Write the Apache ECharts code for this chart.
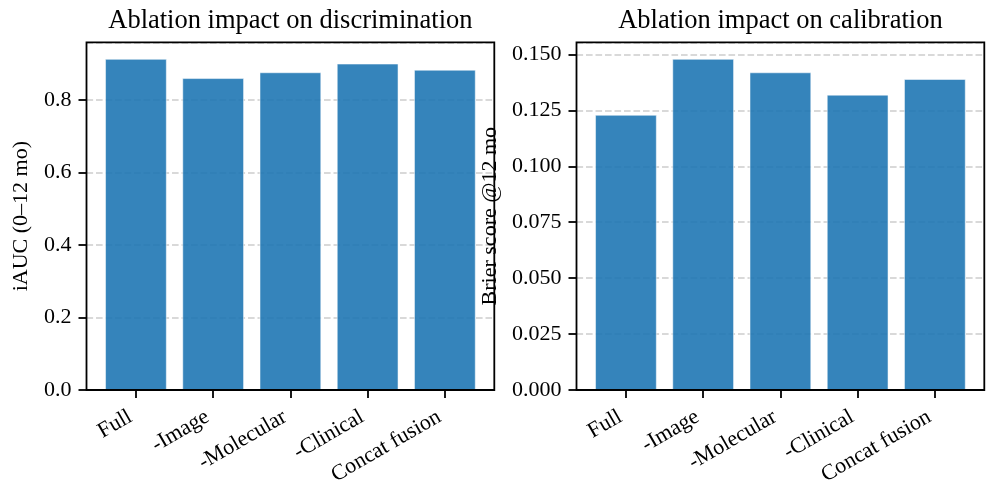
<!DOCTYPE html>
<html>
<head>
<meta charset="utf-8">
<script src="https://cdn.jsdelivr.net/npm/echarts@6/dist/echarts.min.js"></script>
<style>
  html, body { margin: 0; padding: 0; background: #fff; }
  #chart { width: 994px; height: 490px; }
</style>
</head>
<body>
<div id="chart"></div>
<script>
// ---- data ----
const categories = ['Full', '-Image', '-Molecular', '-Clinical', 'Concat fusion'];
const iaucValues = [0.914, 0.861, 0.877, 0.901, 0.884];
const brierValues = [0.123, 0.148, 0.142, 0.132, 0.139];
const iaucTickStep = 0.2;
const brierTickStep = 0.025;
const titles = ['Ablation impact on discrimination', 'Ablation impact on calibration'];
const yNames = ['iAUC (0\u201312 mo)', 'Brier score @12 mo'];

// ---- layout / style ----
const FONT = "'Liberation Serif', 'Times New Roman', serif";
const frameTop = 42.3, frameHeight = 347.7, frameWidth = 407.8;
const frameLefts = [86.5, 576.5];
const nCat = categories.length;
const band = frameWidth / (nCat + 0.28);      // matplotlib padding of 0.64 band each side
const innerPad = 0.14 * band;
const lineW = 1.8;

const chart = echarts.init(document.getElementById('chart'), null, { renderer: 'canvas' });

const grids = [], xAxes = [], yAxes = [], series = [], titleComps = [];
const panels = [
  { values: iaucValues, step: iaucTickStep, dec: 1, nameGap: 54 },
  { values: brierValues, step: brierTickStep, dec: 3, nameGap: 75 }
];

panels.forEach((p, i) => {
  const fl = frameLefts[i];
  const yMax = Math.max(...p.values) * 1.05;
  // outer (frame) grid
  grids.push({ left: fl, top: frameTop, width: frameWidth, height: frameHeight,
    show: true, z: 5, backgroundColor: 'transparent', borderColor: '#000', borderWidth: lineW });
  // inner (bars) grid
  grids.push({ left: fl + innerPad, top: frameTop, width: band * nCat, height: frameHeight });
  const og = i * 2, ig = i * 2 + 1;
  xAxes.push({ gridIndex: og, type: 'value', show: false, min: 0, max: 1 });
  xAxes.push({
    gridIndex: ig, type: 'category', data: categories, boundaryGap: true,
    axisLine: { show: false },
    axisTick: { show: true, alignWithLabel: true, length: 8, inside: false,
      lineStyle: { color: '#000', width: lineW } },
    axisLabel: { interval: 0, rotate: 30, margin: 35, color: '#000',
      align: 'right', verticalAlign: 'bottom',
      fontFamily: FONT, fontSize: 22 },
    splitLine: { show: false }
  });
  yAxes.push({
    gridIndex: og, type: 'value', min: 0, max: yMax, interval: p.step,
    name: yNames[i], nameLocation: 'middle', nameGap: p.nameGap,
    nameTextStyle: { color: '#000', fontFamily: FONT, fontSize: 22 },
    axisLine: { show: false },
    axisTick: { show: true, length: 8, lineStyle: { color: '#000', width: lineW } },
    axisLabel: { margin: 15, color: '#000', fontFamily: FONT, fontSize: 22,
      formatter: v => v.toFixed(p.dec), showMaxLabel: false },
    splitLine: { show: true, lineStyle: { color: 'rgba(160,160,160,0.4)', width: lineW, type: [6.6, 2.9] } }
  });
  yAxes.push({ gridIndex: ig, type: 'value', min: 0, max: yMax, show: false, splitLine: { show: false } });
  series.push({
    type: 'bar', xAxisIndex: ig, yAxisIndex: ig, data: p.values, barWidth: '80%',
    itemStyle: { color: 'rgba(31,119,180,0.9)', borderColor: 'rgba(255,255,255,0.5)', borderWidth: 1 },
    emphasis: { disabled: true }, animation: false
  });
  titleComps.push({
    text: titles[i], left: fl + frameWidth / 2, top: 8, textAlign: 'center', padding: 0,
    textStyle: { color: '#000', fontFamily: FONT, fontSize: 26.5, fontWeight: 'normal' }
  });
});

chart.setOption({
  animation: false,
  title: titleComps,
  grid: grids,
  xAxis: xAxes,
  yAxis: yAxes,
  series: series
});
</script>
</body>
</html>
